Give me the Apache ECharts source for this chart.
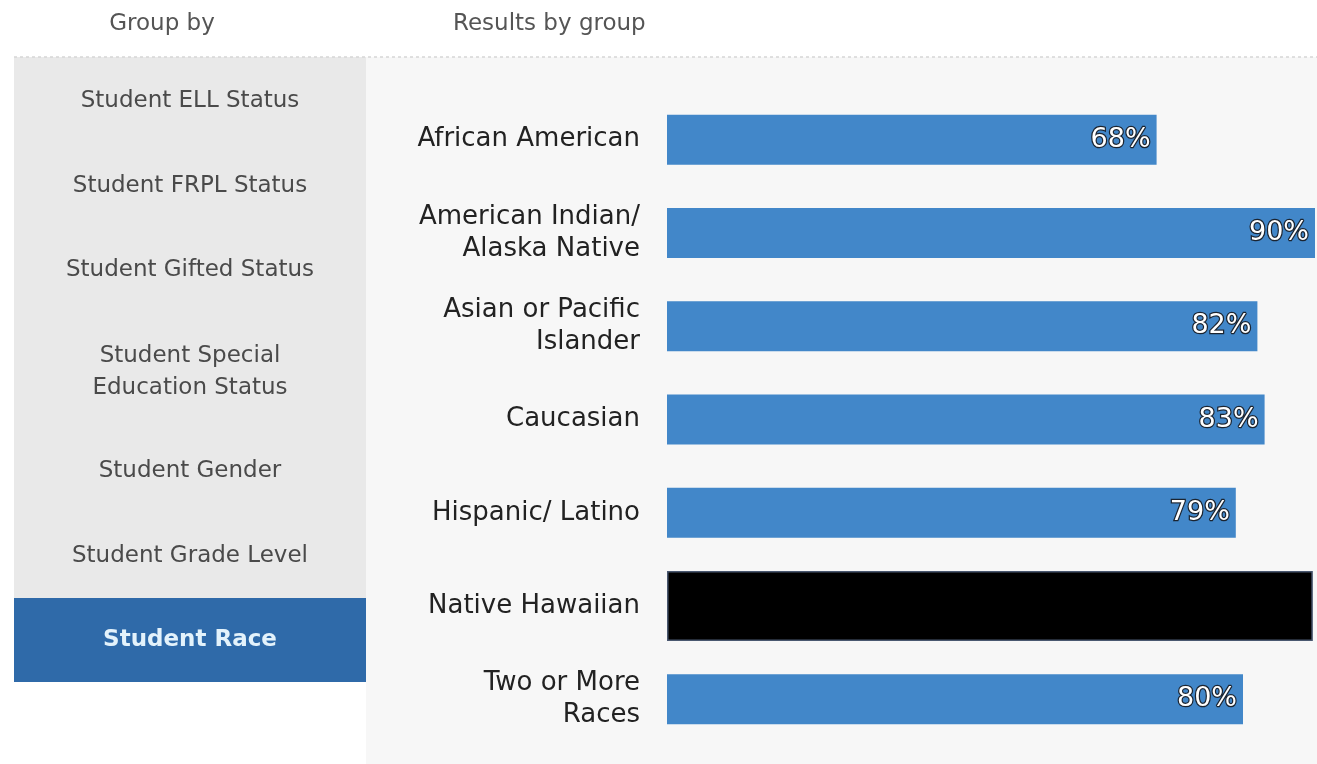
<!DOCTYPE html>
<html>
<head>
<meta charset="utf-8">
<script src="https://cdn.jsdelivr.net/npm/echarts@6/dist/echarts.min.js"></script>
<style>
  html, body { margin: 0; padding: 0; background: #ffffff; }
  #chart { width: 1317px; height: 764px; }
</style>
</head>
<body>
<div id="chart"></div>
<script>
// Grouping options shown in the side menu; the last one is active
const groupOptions = [
  'Student ELL Status',
  'Student FRPL Status',
  'Student Gifted Status',
  'Student Special\nEducation Status',
  'Student Gender',
  'Student Grade Level',
  'Student Race'
];
const activeGroup = 'Student Race';

// Result categories for the active grouping
const categories = [
  'African American',
  'American Indian/\nAlaska Native',
  'Asian or Pacific\nIslander',
  'Caucasian',
  'Hispanic/ Latino',
  'Native Hawaiian',
  'Two or More\nRaces'
];
// Percent per group (null = suppressed)
const percentValues = [68, 90, 82, 83, 79, null, 80];
// Suppressed result, drawn as a solid block
const suppressedValues = [null, null, null, null, null, 89.7, null];

const FONT = '"DejaVu Sans", "Open Sans", sans-serif';
const chart = echarts.init(document.getElementById('chart'), null, { renderer: 'canvas' });

// Side menu entries (vertical centres of each row)
const menuCenters = [101, 186, 270, 372, 471, 556, 640];
const menuGraphics = groupOptions.map((g, i) => ({
  type: 'text',
  x: 190, y: menuCenters[i],
  z: 5,
  silent: true,
  style: {
    text: g,
    align: 'center', verticalAlign: 'middle',
    font: (g === activeGroup ? '700 ' : '400 ') + '23px ' + FONT,
    fill: g === activeGroup ? '#e3f2fb' : '#4a4a4a',
    lineHeight: 32
  }
}));

chart.setOption({
  animation: false,
  backgroundColor: '#ffffff',
  graphic: [
    // results panel background
    { type: 'rect', shape: { x: 366, y: 57, width: 951, height: 707 }, style: { fill: '#f7f7f7' }, z: -10, silent: true },
    // menu panel background
    { type: 'rect', shape: { x: 14, y: 57, width: 352, height: 541 }, style: { fill: '#e9e9e9' }, z: -10, silent: true },
    // active menu entry
    { type: 'rect', shape: { x: 14, y: 598, width: 352, height: 84 }, style: { fill: '#2f6aa9' }, z: -9, silent: true },
    // dotted divider under the headers
    { type: 'line', shape: { x1: 14, y1: 57, x2: 1317, y2: 57 }, style: { stroke: '#d6d6d6', lineWidth: 1.5, lineDash: [3, 3] }, z: -8, silent: true },
    // headers
    { type: 'text', x: 162, y: 24, silent: true, style: { text: 'Group by', align: 'center', verticalAlign: 'middle', font: '400 23px ' + FONT, fill: '#555555' } },
    { type: 'text', x: 453, y: 24, silent: true, style: { text: 'Results by group', align: 'left', verticalAlign: 'middle', font: '400 23px ' + FONT, fill: '#555555' } },
    ...menuGraphics
  ],
  grid: { left: 667, top: 93, right: 2, bottom: 18, outerBoundsMode: 'none' },
  xAxis: [
    { type: 'value', min: 0, max: 90, show: false }
  ],
  yAxis: [
    {
      type: 'category',
      data: categories,
      inverse: true,
      axisLine: { show: false },
      axisTick: { show: false },
      splitLine: { show: false },
      axisLabel: {
        margin: 27,
        fontFamily: FONT,
        fontSize: 26,
        color: '#222222',
        lineHeight: 32,
        align: 'right'
      }
    },
    {
      // twin axis so the suppressed block is laid out independently
      type: 'category',
      data: categories,
      inverse: true,
      show: false
    }
  ],
  series: [
    {
      name: 'Percent',
      type: 'bar',
      yAxisIndex: 0,
      data: percentValues,
      barWidth: 50,
      itemStyle: { color: '#4287c9' },
      label: {
        show: true,
        position: 'insideRight',
        distance: 6,
        formatter: p => p.value + '%',
        fontFamily: FONT,
        fontSize: 27,
        color: '#ffffff',
        textBorderColor: '#1b2430',
        textBorderWidth: 2.5
      }
    },
    {
      name: 'Suppressed',
      type: 'bar',
      yAxisIndex: 1,
      data: suppressedValues,
      barWidth: 70,
      itemStyle: { color: '#000000', borderColor: '#4a5870', borderWidth: 1.5 }
    }
  ]
});
</script>
</body>
</html>
